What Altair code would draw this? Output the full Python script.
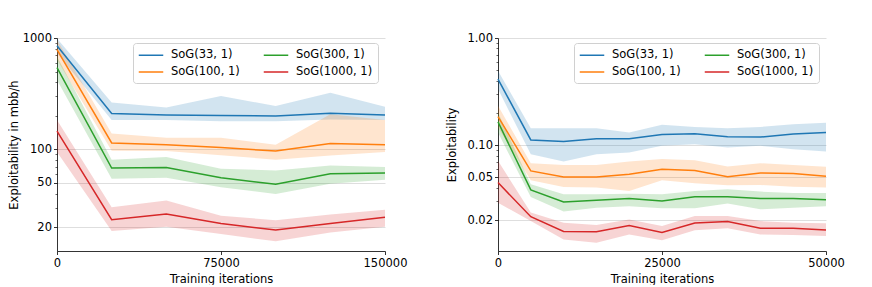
import altair as alt
import pandas as pd

# ---------------- data ----------------
series = ["SoG(33, 1)", "SoG(100, 1)", "SoG(300, 1)", "SoG(1000, 1)"]
series_colors = ["#1f77b4", "#ff7f0e", "#2ca02c", "#d62728"]
# same colour mapping, listed in another order (keeps the band scale distinct from the legend scale)
band_order = ["SoG(33, 1)", "SoG(300, 1)", "SoG(100, 1)", "SoG(1000, 1)"]
band_colors = ["#1f77b4", "#2ca02c", "#ff7f0e", "#d62728"]

# Left panel: exploitability in mbb/h
left_iters = [0, 25000, 50000, 75000, 100000, 125000, 150000]
left_mean = {
    "SoG(33, 1)":   [853, 210, 203, 201, 199, 211, 203],
    "SoG(100, 1)":  [785, 114, 110, 103.6, 96.6, 112.5, 110],
    "SoG(300, 1)":  [543, 67.8, 68.7, 55.4, 48.6, 60.3, 61.1],
    "SoG(1000, 1)": [145.5, 23.3, 26.2, 21.6, 18.8, 21.6, 24.5],
}
left_low = {
    "SoG(33, 1)":   [732, 183, 183, 179, 179, 185, 183],
    "SoG(100, 1)":  [637, 97, 96.6, 88.3, 80.7, 87.9, 94.6],
    "SoG(300, 1)":  [420, 54.3, 55.4, 45.7, 39.7, 49, 53.2],
    "SoG(1000, 1)": [94.6, 18.5, 20.1, 17.3, 14.9, 17.9, 20.1],
}
left_high = {
    "SoG(33, 1)":   [990, 264, 238, 301, 245, 323, 241],
    "SoG(100, 1)":  [965, 139, 127, 127, 110, 207, 183],
    "SoG(300, 1)":  [682, 80.7, 85.3, 66.8, 64.6, 71.6, 69.2],
    "SoG(1000, 1)": [183, 30.1, 34.6, 25.3, 23.1, 25.9, 28.7],
}

# Right panel: exploitability
right_iters = [0, 5000, 10000, 15000, 20000, 25000, 30000, 35000, 40000, 45000, 50000]
right_mean = {
    "SoG(33, 1)":   [0.414, 0.112, 0.108, 0.115, 0.115, 0.126, 0.128, 0.120, 0.119, 0.127, 0.131],
    "SoG(100, 1)":  [0.185, 0.0576, 0.0506, 0.0506, 0.0536, 0.0597, 0.058, 0.0509, 0.0551, 0.0543, 0.0513],
    "SoG(300, 1)":  [0.165, 0.0383, 0.0295, 0.0306, 0.0318, 0.0302, 0.0331, 0.0331, 0.0318, 0.0318, 0.031],
    "SoG(1000, 1)": [0.0448, 0.0215, 0.0157, 0.0156, 0.0178, 0.0153, 0.0188, 0.0194, 0.0168, 0.0168, 0.0162],
}
right_low = {
    "SoG(33, 1)":   [0.334, 0.0824, 0.0704, 0.0824, 0.0854, 0.0986, 0.102, 0.095, 0.0986, 0.0918, 0.0873],
    "SoG(100, 1)":  [0.146, 0.0471, 0.0408, 0.0402, 0.0374, 0.0471, 0.0442, 0.0423, 0.0425, 0.041, 0.0402],
    "SoG(300, 1)":  [0.131, 0.0329, 0.024, 0.0261, 0.0269, 0.0258, 0.0258, 0.0285, 0.0252, 0.0261, 0.0269],
    "SoG(1000, 1)": [0.0291, 0.0196, 0.0132, 0.0123, 0.0147, 0.013, 0.0161, 0.0168, 0.0147, 0.0145, 0.0142],
}
right_high = {
    "SoG(33, 1)":   [0.495, 0.144, 0.144, 0.144, 0.131, 0.155, 0.148, 0.144, 0.148, 0.157, 0.162],
    "SoG(100, 1)":  [0.233, 0.0679, 0.0655, 0.0655, 0.0704, 0.0745, 0.0724, 0.0632, 0.0679, 0.0655, 0.0628],
    "SoG(300, 1)":  [0.202, 0.0432, 0.0348, 0.0348, 0.0353, 0.0348, 0.0374, 0.0388, 0.0369, 0.0359, 0.0359],
    "SoG(1000, 1)": [0.0714, 0.0235, 0.0189, 0.018, 0.0203, 0.0176, 0.0219, 0.0219, 0.0196, 0.0189, 0.0187],
}

left_xticks = [0, 75000, 150000]
right_xticks = [0, 25000, 50000]
left_yticks = [20, 50, 100, 1000]
right_yticks = [0.02, 0.05, 0.1, 1.0]
left_minor = [30, 40, 60, 70, 80, 90, 200, 300, 400, 500, 600, 700, 800, 900]
right_minor = [0.03, 0.04, 0.06, 0.07, 0.08, 0.09, 0.2, 0.3, 0.4, 0.5, 0.6, 0.7, 0.8, 0.9]

FONT = "DejaVu Sans"
FS = 11.5


def to_frame(iters, mean, low, high):
    rows = []
    for s in series:
        for i, it in enumerate(iters):
            rows.append({"it": it, "s": s, "band": s, "m": mean[s][i],
                         "lo": low[s][i], "hi": high[s][i]})
    return pd.DataFrame(rows)


def panel(df, xticks, xmax, ydomain, yticks, yfmt, minor, ytitle, title_pad):
    yscale = alt.Scale(type="log", domain=ydomain, nice=False)
    x = alt.X(
        "it:Q",
        scale=alt.Scale(domain=[0, xmax], nice=False, zero=False),
        axis=alt.Axis(values=xticks, format="d", title="Training iterations", grid=False,
                      labelFlush=False, labelOverlap=False, tickSize=3.5, tickWidth=0.8,
                      tickColor="black", domainColor="black", domainWidth=0.8,
                      labelFont=FONT, labelFontSize=FS, labelColor="black", labelPadding=2.5,
                      titleFont=FONT, titleFontSize=FS, titleFontWeight="normal",
                      titleColor="black", titlePadding=5),
    )
    band = alt.Chart(df).mark_area(opacity=0.2).encode(
        x=x,
        y=alt.Y("lo:Q", scale=yscale,
                axis=alt.Axis(values=yticks, format=yfmt, title=ytitle, grid=True,
                              gridColor="#d6d6d6", gridWidth=0.8,
                              tickSize=3.5, tickWidth=0.8, tickColor="black",
                              domainColor="black", domainWidth=0.8,
                              labelFont=FONT, labelFontSize=FS, labelColor="black",
                              labelPadding=2, titleFont=FONT, titleFontSize=FS,
                              titleFontWeight="normal", titleColor="black",
                              titlePadding=title_pad)),
        y2="hi:Q",
        fill=alt.Fill("band:N", scale=alt.Scale(domain=band_order, range=band_colors),
                      legend=None),
    )
    line = alt.Chart(df).mark_line(strokeWidth=1.5).encode(
        x=x,
        y=alt.Y("m:Q", scale=yscale,
                axis=alt.Axis(values=minor, orient="left", labels=False, grid=False,
                              domain=False, tickSize=2, tickWidth=0.6, tickColor="black",
                              title=None)),
        stroke=alt.Stroke(
            "s:N", scale=alt.Scale(domain=series, range=series_colors),
            legend=alt.Legend(orient="none", legendX=76, legendY=5, columns=2, title=None,
                              symbolType="M-2,0H2", symbolSize=150, symbolStrokeWidth=1.5,
                              symbolOffset=6, labelFont=FONT, labelFontSize=FS,
                              labelColor="black", labelOffset=13, labelLimit=200,
                              columnPadding=20, rowPadding=4, padding=5,
                              strokeColor="#d0d0d0", fillColor="white", cornerRadius=3),
        ),
    )
    return alt.layer(band, line).resolve_axis(y="independent").properties(width=328, height=213)


left_df = to_frame(left_iters, left_mean, left_low, left_high)
right_df = to_frame(right_iters, right_mean, right_low, right_high)

left = panel(left_df, left_xticks, 150000, [12.2, 1000], left_yticks, "d", left_minor,
             "Exploitability in mbb/h", 3)
right = panel(right_df, right_xticks, 50000, [0.0103, 1.0], right_yticks, ".2f", right_minor,
              "Exploitability", 9)

chart = alt.hconcat(left, right, spacing=39).resolve_scale(
    fill="independent", stroke="independent"
).properties(
    padding={"left": 0, "top": 24, "right": 0, "bottom": 0}
).configure_view(stroke=None)

chart.save("out.html", embed_options={"renderer": "svg", "actions": False})
